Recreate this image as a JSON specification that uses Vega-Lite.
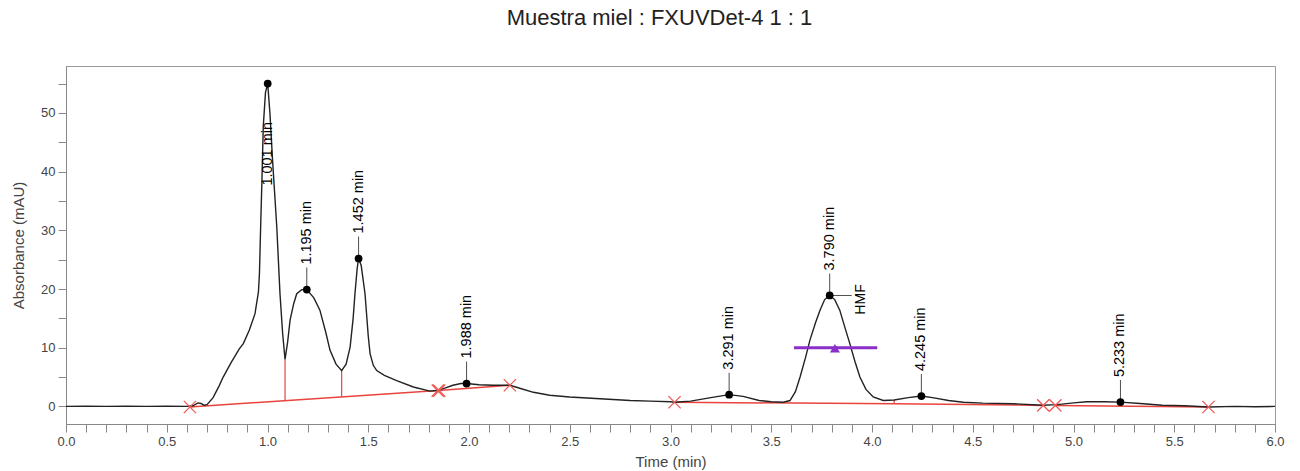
{
  "$schema": "https://vega.github.io/schema/vega-lite/v6.json",
  "width": 1209,
  "height": 358,
  "autosize": {"type": "none"},
  "padding": {"left": 66, "top": 66, "right": 25, "bottom": 47},
  "background": "white",
  "title": {"text": "Muestra miel : FXUVDet-4 1 : 1", "fontSize": 22, "fontWeight": "normal", "font": "Liberation Sans", "color": "#222222", "offset": 36, "dx": -11},
  "config": {
    "view": {"stroke": "#9a9a9a", "strokeWidth": 1},
    "axis": {"grid": false, "domainColor": "#888888", "tickColor": "#888888", "tickSize": 8, "labelFont": "Liberation Sans", "labelFontSize": 13, "labelColor": "#444444", "titleFont": "Liberation Sans", "titleFontSize": 15, "titleFontWeight": "normal", "titleColor": "#444444"}
  },
  "datasets": {
    "trace": [
      {"t": 0.00, "a": 0.0}, {"t": 0.10, "a": 0.05}, {"t": 0.20, "a": 0.0}, {"t": 0.30, "a": 0.05}, {"t": 0.40, "a": 0.0}, {"t": 0.50, "a": 0.05}, {"t": 0.60, "a": 0.0},
      {"t": 0.63, "a": 0.1}, {"t": 0.655, "a": 0.6}, {"t": 0.67, "a": 0.5}, {"t": 0.685, "a": 0.2}, {"t": 0.70, "a": 0.3}, {"t": 0.73, "a": 1.5}, {"t": 0.76, "a": 3.5}, {"t": 0.78, "a": 5.0}, {"t": 0.82, "a": 7.5}, {"t": 0.86, "a": 9.8}, {"t": 0.88, "a": 10.7}, {"t": 0.91, "a": 13.0}, {"t": 0.938, "a": 15.8}, {"t": 0.955, "a": 19.5}, {"t": 0.96, "a": 22.6}, {"t": 0.966, "a": 30.6}, {"t": 0.972, "a": 38.0}, {"t": 0.979, "a": 47.7}, {"t": 0.99, "a": 53.5}, {"t": 1.001, "a": 55.0}, {"t": 1.012, "a": 50.0}, {"t": 1.025, "a": 42.0}, {"t": 1.046, "a": 30.6}, {"t": 1.062, "a": 19.2}, {"t": 1.075, "a": 12.5}, {"t": 1.087, "a": 8.0},
      {"t": 1.100, "a": 11.0}, {"t": 1.112, "a": 14.7}, {"t": 1.13, "a": 17.5}, {"t": 1.145, "a": 19.2}, {"t": 1.17, "a": 19.9}, {"t": 1.195, "a": 19.9}, {"t": 1.23, "a": 18.5}, {"t": 1.26, "a": 16.4}, {"t": 1.29, "a": 12.5}, {"t": 1.31, "a": 9.6}, {"t": 1.34, "a": 7.2}, {"t": 1.368, "a": 6.1},
      {"t": 1.39, "a": 7.2}, {"t": 1.41, "a": 10.1}, {"t": 1.425, "a": 15.0}, {"t": 1.434, "a": 19.2}, {"t": 1.445, "a": 23.5}, {"t": 1.452, "a": 25.2}, {"t": 1.465, "a": 24.0}, {"t": 1.484, "a": 19.2}, {"t": 1.50, "a": 12.0}, {"t": 1.509, "a": 9.0}, {"t": 1.525, "a": 7.0}, {"t": 1.542, "a": 6.1}, {"t": 1.58, "a": 5.3}, {"t": 1.641, "a": 4.4}, {"t": 1.724, "a": 3.3}, {"t": 1.806, "a": 2.6}, {"t": 1.84, "a": 2.7},
      {"t": 1.88, "a": 3.1}, {"t": 1.92, "a": 3.6}, {"t": 1.96, "a": 3.9}, {"t": 1.988, "a": 3.9}, {"t": 2.05, "a": 3.7}, {"t": 2.12, "a": 3.6}, {"t": 2.203, "a": 3.6}, {"t": 2.26, "a": 3.0}, {"t": 2.32, "a": 2.4}, {"t": 2.40, "a": 1.9}, {"t": 2.50, "a": 1.6}, {"t": 2.65, "a": 1.3}, {"t": 2.80, "a": 1.0}, {"t": 2.90, "a": 0.9}, {"t": 3.00, "a": 0.8}, {"t": 3.02, "a": 0.7},
      {"t": 3.10, "a": 0.9}, {"t": 3.20, "a": 1.5}, {"t": 3.291, "a": 2.0}, {"t": 3.36, "a": 1.7}, {"t": 3.44, "a": 1.0}, {"t": 3.50, "a": 0.8}, {"t": 3.56, "a": 0.7},
      {"t": 3.593, "a": 1.0}, {"t": 3.62, "a": 2.5}, {"t": 3.643, "a": 5.0}, {"t": 3.67, "a": 8.3}, {"t": 3.692, "a": 11.3}, {"t": 3.72, "a": 14.3}, {"t": 3.742, "a": 16.4}, {"t": 3.765, "a": 18.2}, {"t": 3.79, "a": 18.9}, {"t": 3.815, "a": 18.2}, {"t": 3.84, "a": 16.4}, {"t": 3.865, "a": 13.5}, {"t": 3.89, "a": 10.7}, {"t": 3.915, "a": 7.7}, {"t": 3.94, "a": 5.0}, {"t": 3.97, "a": 2.9}, {"t": 4.006, "a": 1.6}, {"t": 4.056, "a": 1.0},
      {"t": 4.11, "a": 1.1}, {"t": 4.18, "a": 1.5}, {"t": 4.245, "a": 1.76}, {"t": 4.30, "a": 1.5}, {"t": 4.38, "a": 1.0}, {"t": 4.453, "a": 0.7}, {"t": 4.55, "a": 0.55}, {"t": 4.70, "a": 0.45}, {"t": 4.85, "a": 0.2},
      {"t": 4.92, "a": 0.3}, {"t": 5.00, "a": 0.6}, {"t": 5.066, "a": 0.8}, {"t": 5.15, "a": 0.8}, {"t": 5.233, "a": 0.73}, {"t": 5.33, "a": 0.5}, {"t": 5.44, "a": 0.2}, {"t": 5.55, "a": 0.1}, {"t": 5.67, "a": -0.1}, {"t": 5.80, "a": 0.0}, {"t": 5.90, "a": -0.05}, {"t": 6.00, "a": 0.0}
    ],
    "peaks": [
      {"t": 1.001, "a": 55.0, "label": "1.001 min"},
      {"t": 1.195, "a": 19.9, "label": "1.195 min"},
      {"t": 1.452, "a": 25.2, "label": "1.452 min"},
      {"t": 1.988, "a": 3.9, "label": "1.988 min"},
      {"t": 3.291, "a": 2.0, "label": "3.291 min"},
      {"t": 3.790, "a": 18.9, "label": "3.790 min"},
      {"t": 4.245, "a": 1.76, "label": "4.245 min"},
      {"t": 5.233, "a": 0.73, "label": "5.233 min"}
    ],
    "baselines": [
      {"seg": "A", "t": 0.615, "a": -0.1}, {"seg": "A", "t": 1.848, "a": 2.7},
      {"seg": "B", "t": 1.848, "a": 2.7}, {"seg": "B", "t": 2.203, "a": 3.6},
      {"seg": "C", "t": 3.02, "a": 0.7}, {"seg": "C", "t": 4.11, "a": 0.45},
      {"seg": "D", "t": 4.11, "a": 0.45}, {"seg": "D", "t": 4.85, "a": 0.17},
      {"seg": "E", "t": 4.91, "a": 0.17}, {"seg": "E", "t": 5.67, "a": -0.1}
    ],
    "drops": [
      {"t": 1.087, "a": 0.97, "a2": 8.0},
      {"t": 1.368, "a": 1.61, "a2": 6.1},
      {"t": 4.11, "a": 0.45, "a2": 1.1}
    ],
    "crosses": [
      {"t": 0.615, "a": -0.1}, {"t": 1.845, "a": 2.7}, {"t": 1.852, "a": 2.7}, {"t": 2.203, "a": 3.6}, {"t": 3.02, "a": 0.7}, {"t": 4.85, "a": 0.17}, {"t": 4.91, "a": 0.17}, {"t": 5.67, "a": -0.1}
    ],
    "window": [
      {"t": 3.613, "t2": 4.026, "a": 10.0, "center": 3.816, "ac": 9.9}
    ],
    "ident": [
      {"t": 3.790, "a": 18.9, "name": "HMF"}
    ]
  },
  "encoding": {
    "x": {"field": "t", "type": "quantitative", "scale": {"domain": [0, 6], "nice": false, "zero": false},
      "axis": {"title": "Time (min)", "values": [0,0.1,0.2,0.3,0.4,0.5,0.6,0.7,0.8,0.9,1,1.1,1.2,1.3,1.4,1.5,1.6,1.7,1.8,1.9,2,2.1,2.2,2.3,2.4,2.5,2.6,2.7,2.8,2.9,3,3.1,3.2,3.3,3.4,3.5,3.6,3.7,3.8,3.9,4,4.1,4.2,4.3,4.4,4.5,4.6,4.7,4.8,4.9,5,5.1,5.2,5.3,5.4,5.5,5.6,5.7,5.8,5.9,6],
        "labelExpr": "round(datum.value*10) % 5 == 0 ? format(datum.value, '.1f') : ''", "labelPadding": 3, "titlePadding": 6, "labelFlush": false, "labelOverlap": false}},
    "y": {"field": "a", "type": "quantitative", "scale": {"domain": [-3, 58], "nice": false, "zero": false},
      "axis": {"title": "Absorbance (mAU)", "values": [0,5,10,15,20,25,30,35,40,45,50,55],
        "labelExpr": "datum.value % 10 == 0 ? datum.label : ''", "labelPadding": 3, "titlePadding": 14, "labelOverlap": false}}
  },
  "layer": [
    {"data": {"name": "baselines"}, "mark": {"type": "line", "color": "#e8433c", "strokeWidth": 1.5}, "encoding": {"detail": {"field": "seg"}}},
    {"data": {"name": "drops"}, "mark": {"type": "rule", "color": "#e8433c", "strokeWidth": 1.2}, "encoding": {"y2": {"field": "a2"}}},
    {"data": {"name": "trace"}, "mark": {"type": "line", "color": "#222222", "strokeWidth": 1.4}, "encoding": {}},
    {"data": {"name": "crosses"}, "mark": {"type": "point", "shape": "M-1,-1L1,1M-1,1L1,-1", "filled": false, "stroke": "#ee5a55", "strokeWidth": 1.3, "size": 150, "opacity": 1}, "encoding": {}},
    {"data": {"name": "window"}, "mark": {"type": "rule", "color": "#8a2fc8", "strokeWidth": 3}, "encoding": {"x2": {"field": "t2"}}},
    {"data": {"name": "window"}, "mark": {"type": "point", "shape": "triangle-up", "filled": true, "color": "#8a2fc8", "size": 100, "opacity": 1}, "encoding": {"x": {"field": "center", "type": "quantitative"}, "y": {"field": "ac", "type": "quantitative"}}},
    {"data": {"name": "peaks"}, "mark": {"type": "point", "filled": true, "color": "#000000", "size": 60, "opacity": 1}, "encoding": {}},
    {"data": {"name": "peaks"}, "transform": [{"filter": "datum.t > 1.1"}], "mark": {"type": "tick", "orient": "vertical", "size": 22, "thickness": 1, "color": "#000000", "yOffset": -11}, "encoding": {}},
    {"data": {"name": "peaks"}, "transform": [{"filter": "datum.t > 1.1"}], "mark": {"type": "text", "angle": 270, "align": "left", "baseline": "middle", "dx": 25, "font": "Liberation Sans", "fontSize": 14.5, "color": "#000000"}, "encoding": {"text": {"field": "label"}}},
    {"data": {"name": "peaks"}, "transform": [{"filter": "datum.t < 1.1"}], "mark": {"type": "text", "angle": 270, "align": "left", "baseline": "middle", "dx": -102, "font": "Liberation Sans", "fontSize": 14.5, "color": "#000000"}, "encoding": {"text": {"field": "label"}}},
    {"data": {"name": "ident"}, "mark": {"type": "tick", "orient": "horizontal", "size": 22, "thickness": 1, "color": "#000000", "xOffset": 11}, "encoding": {}},
    {"data": {"name": "ident"}, "mark": {"type": "text", "angle": 270, "align": "center", "baseline": "middle", "dy": 31, "dx": -4, "font": "Liberation Sans", "fontSize": 14, "color": "#000000"}, "encoding": {"text": {"field": "name"}}}
  ]
}
